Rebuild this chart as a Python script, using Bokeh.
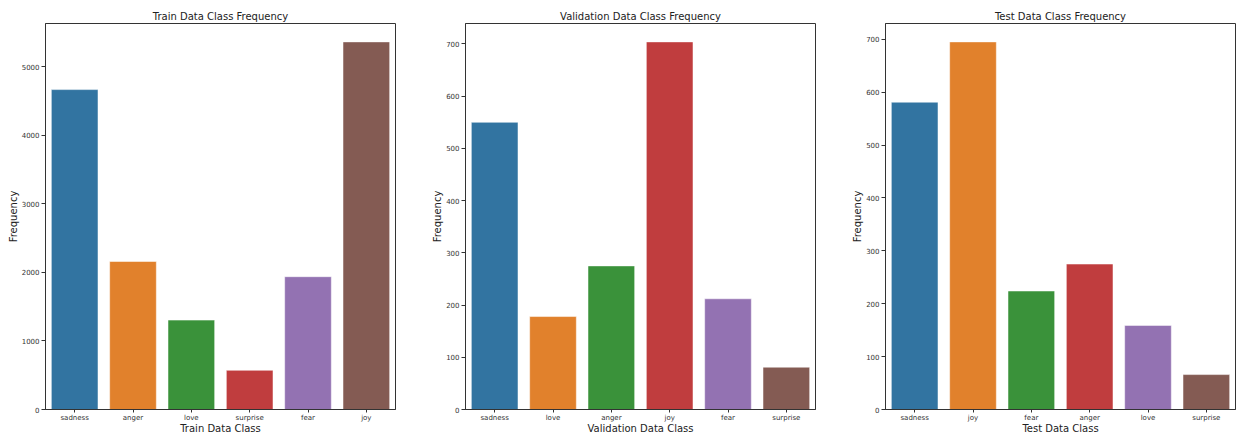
from bokeh.plotting import figure
from bokeh.layouts import row
from bokeh.models import Range1d, FixedTicker, ColumnDataSource, FactorRange
from bokeh.embed import file_html
from bokeh.resources import INLINE

# ---- data ----
train_classes = ["sadness", "anger", "love", "surprise", "fear", "joy"]
train_counts = [4666, 2159, 1304, 572, 1937, 5362]
train_ticks = [0, 1000, 2000, 3000, 4000, 5000]

val_classes = ["sadness", "love", "anger", "joy", "fear", "surprise"]
val_counts = [550, 178, 275, 704, 212, 81]
val_ticks = [0, 100, 200, 300, 400, 500, 600, 700]

test_classes = ["sadness", "joy", "fear", "anger", "love", "surprise"]
test_counts = [581, 695, 224, 275, 159, 66]
test_ticks = [0, 100, 200, 300, 400, 500, 600, 700]

palette = ["#3274a1", "#e1812c", "#3a923a", "#c03d3e", "#9372b2", "#845b53"]

FONT = "DejaVu Sans"
DARK = "#333333"


def make(title, xlabel, cats, counts, ticks, width, right_border):
    src = ColumnDataSource(dict(cat=cats, n=counts, color=palette[:len(cats)]))
    p = figure(
        x_range=FactorRange(factors=cats, range_padding=0),
        y_range=Range1d(0, max(counts) * 1.05),
        width=width, height=436,
        min_border_left=45, min_border_right=right_border,
        min_border_top=23, min_border_bottom=26,
        output_backend="svg", toolbar_location=None,
        title=title,
    )
    p.vbar(x="cat", top="n", width=0.8, source=src,
           fill_color="color", line_color="white", line_alpha=0.5, line_width=1)
    p.title.text_font = FONT
    p.title.text_font_size = "10px"
    p.title.text_font_style = "normal"
    p.title.text_color = "#222222"
    p.title.align = "center"
    p.title.standoff = 4
    p.xaxis.axis_label = xlabel
    p.yaxis.axis_label = "Frequency"
    p.yaxis.ticker = FixedTicker(ticks=ticks)
    for ax in p.axis:
        ax.axis_label_text_font = FONT
        ax.axis_label_text_font_size = "10px"
        ax.axis_label_text_font_style = "normal"
        ax.axis_label_text_color = "#222222"
        ax.major_label_text_font = FONT
        ax.major_label_text_font_size = "7px"
        ax.major_label_text_color = DARK
        ax.major_tick_out = 4
        ax.major_tick_in = 0
        ax.minor_tick_out = 0
        ax.minor_tick_in = 0
        ax.axis_line_color = DARK
        ax.major_tick_line_color = DARK
    p.yaxis.major_label_standoff = 2
    p.yaxis.axis_label_standoff = 0
    p.xaxis.major_tick_out = 3
    p.xaxis.major_label_standoff = 1
    p.xaxis.axis_label_standoff = -2
    p.xgrid.visible = False
    p.ygrid.visible = False
    p.outline_line_color = DARK
    p.outline_line_alpha = 1
    p.background_fill_color = "white"
    p.border_fill_color = "white"
    return p


p1 = make("Train Data Class Frequency", "Train Data Class", train_classes, train_counts, train_ticks, 420, 25)
p2 = make("Validation Data Class Frequency", "Validation Data Class", val_classes, val_counts, val_ticks, 420, 25)
p3 = make("Test Data Class Frequency", "Test Data Class", test_classes, test_counts, test_ticks, 400, 5)

layout = row(p1, p2, p3)
open("out.html", "w").write(file_html(layout, INLINE))
